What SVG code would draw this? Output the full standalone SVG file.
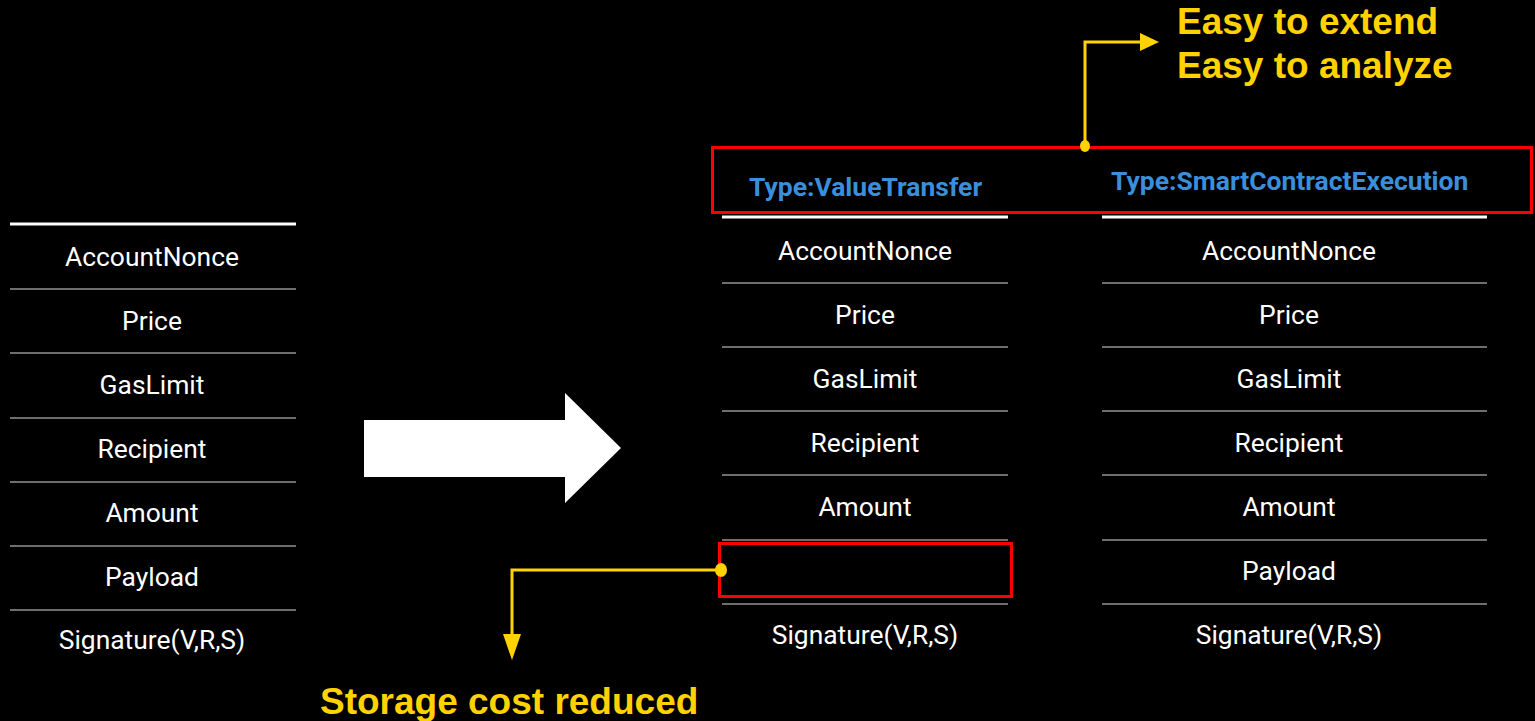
<svg xmlns="http://www.w3.org/2000/svg" width="1535" height="721" viewBox="0 0 1535 721">
<style>
.bg{fill:#000}
.top{stroke:#fff;stroke-width:3}
.sep{stroke:#6e6e6e;stroke-width:2}
.f{font-family:Roboto,"Liberation Sans",sans-serif;font-size:26.4px;fill:#fff;text-anchor:middle}
.type{font-family:Roboto,"Liberation Sans",sans-serif;font-weight:bold;font-size:26.5px;fill:#3a8fdc}
.note{font-family:"Liberation Sans",Arial,sans-serif;font-weight:bold;font-size:37px;fill:#ffd200}
.red{fill:none;stroke:#ff0000;stroke-width:3}
.y{fill:none;stroke:#ffd200;stroke-width:3}
.yf{fill:#ffd200}
</style>
<rect class="bg" x="0" y="0" width="1535" height="721"/>

<g id="table-legacy">
<line class="top" x1="10" y1="224" x2="296" y2="224"/>
<line class="sep" x1="10" y1="289" x2="296" y2="289"/>
<line class="sep" x1="10" y1="353" x2="296" y2="353"/>
<line class="sep" x1="10" y1="418" x2="296" y2="418"/>
<line class="sep" x1="10" y1="482" x2="296" y2="482"/>
<line class="sep" x1="10" y1="546" x2="296" y2="546"/>
<line class="sep" x1="10" y1="610" x2="296" y2="610"/>
<text class="f" x="152" y="266">AccountNonce</text>
<text class="f" x="152" y="330">Price</text>
<text class="f" x="152" y="394">GasLimit</text>
<text class="f" x="152" y="458">Recipient</text>
<text class="f" x="152" y="522">Amount</text>
<text class="f" x="152" y="586">Payload</text>
<text class="f" x="152" y="649">Signature(V,R,S)</text>
</g>

<g id="big-arrow">
<polygon points="364,420 565,420 565,393 621,448 565,503 565,477 364,477" fill="#fff"/>
</g>

<g id="table-valuetransfer">
<text class="type" x="749" y="196">Type:ValueTransfer</text>
<line class="top" x1="722" y1="217" x2="1008" y2="217"/>
<line class="sep" x1="722" y1="283" x2="1008" y2="283"/>
<line class="sep" x1="722" y1="347" x2="1008" y2="347"/>
<line class="sep" x1="722" y1="411" x2="1008" y2="411"/>
<line class="sep" x1="722" y1="475" x2="1008" y2="475"/>
<line class="sep" x1="722" y1="540" x2="1008" y2="540"/>
<line class="sep" x1="722" y1="604" x2="1008" y2="604"/>
<text class="f" x="865" y="260">AccountNonce</text>
<text class="f" x="865" y="324">Price</text>
<text class="f" x="865" y="388">GasLimit</text>
<text class="f" x="865" y="452">Recipient</text>
<text class="f" x="865" y="516">Amount</text>
<text class="f" x="865" y="644">Signature(V,R,S)</text>
</g>

<g id="table-smartcontract">
<text class="type" x="1111" y="190">Type:SmartContractExecution</text>
<line class="top" x1="1102" y1="217" x2="1487" y2="217"/>
<line class="sep" x1="1102" y1="283" x2="1487" y2="283"/>
<line class="sep" x1="1102" y1="347" x2="1487" y2="347"/>
<line class="sep" x1="1102" y1="411" x2="1487" y2="411"/>
<line class="sep" x1="1102" y1="475" x2="1487" y2="475"/>
<line class="sep" x1="1102" y1="540" x2="1487" y2="540"/>
<line class="sep" x1="1102" y1="604" x2="1487" y2="604"/>
<text class="f" x="1289" y="260">AccountNonce</text>
<text class="f" x="1289" y="324">Price</text>
<text class="f" x="1289" y="388">GasLimit</text>
<text class="f" x="1289" y="452">Recipient</text>
<text class="f" x="1289" y="516">Amount</text>
<text class="f" x="1289" y="580">Payload</text>
<text class="f" x="1289" y="644">Signature(V,R,S)</text>
</g>

<g id="highlight-type">
<rect class="red" x="712.5" y="147.5" width="819" height="65"/>
</g>
<g id="highlight-payload">
<rect class="red" x="719.5" y="543.5" width="292" height="53"/>
</g>

<g id="note-extend">
<text class="note" x="1177" y="34">Easy to extend</text>
<text class="note" x="1177" y="78">Easy to analyze</text>
</g>
<g id="note-storage">
<text class="note" x="320" y="714">Storage cost reduced</text>
</g>

<g id="connectors">
<polyline class="y" points="1085,147 1085,42 1142,42"/>
<polygon class="yf" points="1140,33 1159,42 1140,51"/>
<ellipse class="yf" cx="1085" cy="146" rx="5" ry="6"/>
<polyline class="y" points="721,570 512,570 512,636"/>
<polygon class="yf" points="503,634 512,660 521,634"/>
<ellipse class="yf" cx="721" cy="570" rx="6" ry="7"/>
</g>
</svg>
